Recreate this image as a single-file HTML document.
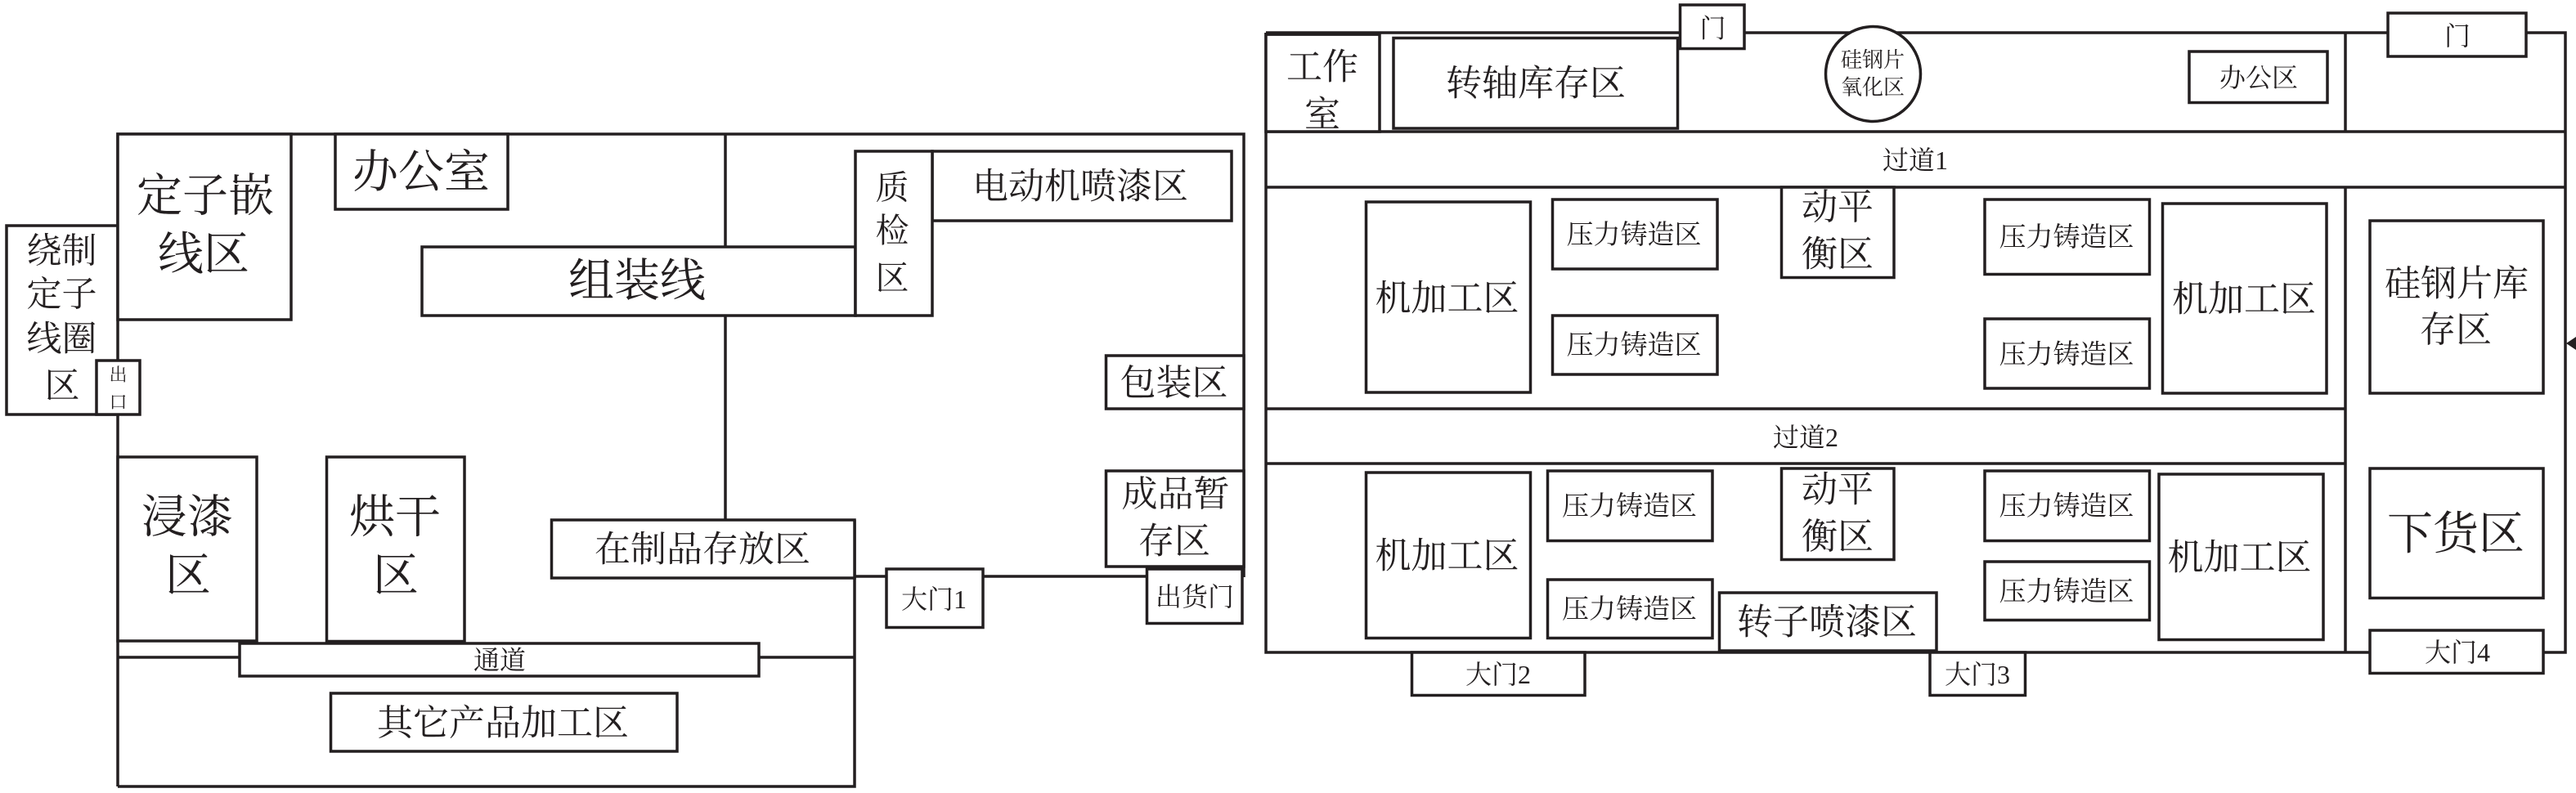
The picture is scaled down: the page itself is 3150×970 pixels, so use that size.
<!DOCTYPE html>
<html><head><meta charset="utf-8"><style>
html,body{margin:0;padding:0;background:#fff}
svg{display:block}
text{font-family:"Liberation Serif","Noto Serif CJK SC",serif;fill:#231f20;text-anchor:middle;dominant-baseline:central}
rect,circle{fill:#fff;stroke:#231f20;stroke-width:3.5}
line,polyline{stroke:#231f20;stroke-width:3.5;fill:none}
.a{font-size:56px}.b{font-size:44px}.c{font-size:32px}.d{font-size:33px}.e{font-size:41px}.f{font-size:43px}
</style></head><body>
<svg xmlns="http://www.w3.org/2000/svg" width="3150" height="970" viewBox="0 0 3150 970">
<polyline points="144,276 144,164 1521,164 1521,706"/>
<line x1="144" y1="507" x2="144" y2="962"/>
<polyline points="144,962 1045,962 1045,636"/>
<line x1="887" y1="164" x2="887" y2="302" stroke-width="2.500"/>
<line x1="887" y1="386" x2="887" y2="636" stroke-width="2.500"/>
<line x1="144" y1="804" x2="1045" y2="804"/>
<line x1="1045" y1="705" x2="1402" y2="705"/>
<rect x="8" y="276" width="136" height="231"/>
<rect x="144" y="164" width="212" height="227"/>
<rect x="410" y="164" width="211" height="92"/>
<rect x="516" y="302" width="530" height="84"/>
<rect x="1140" y="185" width="366" height="85"/>
<rect x="1046" y="185" width="94" height="201"/>
<rect x="118" y="441" width="53" height="66"/>
<rect x="1352.500" y="435" width="168.500" height="65"/>
<rect x="1352.500" y="576" width="168.500" height="117"/>
<rect x="674.500" y="636" width="370.500" height="71"/>
<rect x="1084" y="696" width="118" height="71.500"/>
<rect x="1402.500" y="696" width="116.500" height="66.500"/>
<rect x="144" y="559" width="170" height="225"/>
<rect x="399.500" y="559" width="168.500" height="225.500"/>
<rect x="293" y="787" width="635" height="40"/>
<rect x="404.500" y="848" width="423.500" height="71"/>

<polyline points="1548,40 3137,40 3137,798 1548,798 1548,40"/>
<line x1="1548" y1="161" x2="3137" y2="161"/>
<line x1="1548" y1="229" x2="3137" y2="229"/>
<line x1="1548" y1="500" x2="2868" y2="500"/>
<line x1="1548" y1="567" x2="2868" y2="567"/>
<line x1="2868" y1="40" x2="2868" y2="161" stroke-width="2.500"/>
<line x1="2868" y1="229" x2="2868" y2="798" stroke-width="2.500"/>
<rect x="1548" y="42" width="139" height="119"/>
<line x1="1548" y1="42" x2="1687" y2="42" stroke-width="5"/>
<rect x="1704" y="46.500" width="347.500" height="110.500"/>
<rect x="2054.500" y="6" width="78.500" height="53.500"/>
<circle cx="2290.500" cy="90.500" r="58"/>
<rect x="2677" y="63" width="169" height="62.500"/>
<rect x="2920" y="16" width="169" height="53"/>
<rect x="1670.500" y="247" width="201" height="233"/>
<rect x="1898.500" y="244" width="201.500" height="85"/>
<rect x="1898.500" y="386" width="201.500" height="72"/>
<rect x="2178.500" y="229" width="137.500" height="110.500"/>
<rect x="2427" y="244" width="201.500" height="91.500"/>
<rect x="2427" y="390" width="201.500" height="85"/>
<rect x="2644.500" y="249" width="200.500" height="232"/>
<rect x="2898" y="270" width="212" height="211"/>
<rect x="1670.500" y="578" width="201" height="202.500"/>
<rect x="1892.500" y="576" width="201.500" height="85.500"/>
<rect x="1892.500" y="709" width="201.500" height="71.500"/>
<rect x="2178.500" y="573" width="137.500" height="111.500"/>
<rect x="2102.500" y="725" width="265.500" height="71"/>
<line x1="2102.500" y1="797" x2="2368" y2="797" stroke-width="4"/>
<rect x="2427" y="576" width="201.500" height="85.500"/>
<rect x="2427" y="687" width="201.500" height="71.500"/>
<rect x="2640" y="580" width="201" height="202.500"/>
<rect x="2898" y="573" width="212" height="158.500"/>
<rect x="2898" y="771" width="212" height="52.500"/>
<rect x="1726.500" y="798" width="211.500" height="52.500"/>
<rect x="2360" y="798" width="116.500" height="52.500"/>
<polygon points="3138,420 3150,412 3150,428" fill="#231f20"/>

<g transform="translate(0,2)">
<text class="f" x="75.500" y="306">绕制</text>
<text class="f" x="75.500" y="359">定子</text>
<text class="f" x="75.500" y="413.500">线圈</text>
<text class="f" x="76" y="471">区</text>
<text x="144.500" y="456.500" font-size="22">出</text>
<text x="144.500" y="490" font-size="22">口</text>
<text class="a" x="251" y="238.500">定子嵌</text>
<text class="a" x="249" y="310">线区</text>
<text class="a" x="515" y="209.500">办公室</text>
<text class="a" x="779" y="342.500">组装线</text>
<text class="e" x="1091" y="227.500">质</text>
<text class="e" x="1091" y="280">检</text>
<text class="e" x="1091" y="338">区</text>
<text class="b" x="1321" y="226">电动机喷漆区</text>
<text class="b" x="1435.500" y="466.500">包装区</text>
<text class="b" x="1437.500" y="602.500">成品暂</text>
<text class="b" x="1436" y="660">存区</text>
<text class="c" x="1142" y="731">大门1</text>
<text class="c" x="1461" y="728">出货门</text>
<text class="b" x="859" y="670">在制品存放区</text>
<text class="a" x="229" y="631.500">浸漆</text>
<text class="a" x="230" y="703">区</text>
<text class="a" x="483" y="631.500">烘干</text>
<text class="a" x="484" y="703">区</text>
<text class="c" x="611" y="805.500">通道</text>
<text class="b" x="615" y="882.500">其它产品加工区</text>

<text class="b" x="1617" y="80">工作</text>
<text class="b" x="1617" y="138">室</text>
<text class="b" x="1878" y="100">转轴库存区</text>
<text class="c" x="2094.500" y="32.500">门</text>
<text x="2290" y="71.500" font-size="26">硅钢片</text>
<text x="2290" y="105" font-size="26">氧化区</text>
<text class="c" x="2762" y="93">办公区</text>
<text class="c" x="3005" y="42">门</text>
<text class="c" x="2342" y="194">过道1</text>
<text class="b" x="1769.500" y="363">机加工区</text>
<text class="d" x="1998" y="286">压力铸造区</text>
<text class="d" x="1998" y="421">压力铸造区</text>
<text class="b" x="2247" y="251.500">动平</text>
<text class="b" x="2247" y="309">衡区</text>
<text class="d" x="2527" y="289">压力铸造区</text>
<text class="d" x="2527" y="432.500">压力铸造区</text>
<text class="b" x="2744" y="364">机加工区</text>
<text class="b" x="3004" y="345">硅钢片库</text>
<text class="b" x="3003" y="401.500">存区</text>
<text class="c" x="2208" y="533">过道2</text>
<text class="b" x="1769.500" y="678">机加工区</text>
<text class="d" x="1992.500" y="618">压力铸造区</text>
<text class="d" x="1992.500" y="744">压力铸造区</text>
<text class="b" x="2247" y="597">动平</text>
<text class="b" x="2247" y="654.500">衡区</text>
<text class="b" x="2234" y="759">转子喷漆区</text>
<text class="c" x="1832" y="823">大门2</text>
<text class="c" x="2418" y="823">大门3</text>
<text class="d" x="2527" y="618">压力铸造区</text>
<text class="d" x="2527" y="722.500">压力铸造区</text>
<text class="b" x="2738.500" y="680">机加工区</text>
<text class="a" x="3003" y="652">下货区</text>
<text class="c" x="3005" y="796">大门4</text>
</g>
</svg>
</body></html>
